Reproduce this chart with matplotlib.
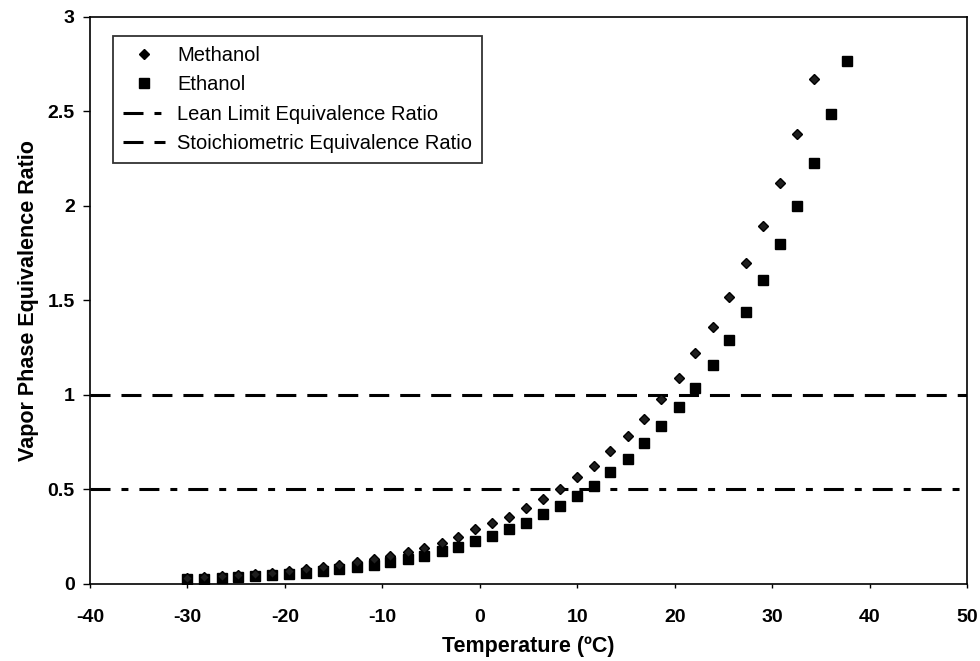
import matplotlib
matplotlib.use("Agg")
import matplotlib.pyplot as plt
from matplotlib.lines import Line2D

plt.rcParams['font.family'] = ['Liberation Sans', 'DejaVu Sans']
plt.rcParams['lines.scale_dashes'] = False

# Temperatures (deg C) of the data points
temp_ethanol = [-30.0, -28.3, -26.5, -24.8, -23.1, -21.3, -19.6, -17.8, -16.1, -14.4,
                -12.6, -10.9, -9.2, -7.4, -5.7, -3.9, -2.2, -0.5, 1.3, 3.0,
                4.7, 6.5, 8.2, 10.0, 11.7, 13.4, 15.2, 16.9, 18.6, 20.4,
                22.1, 23.9, 25.6, 27.3, 29.1, 30.8, 32.5, 34.3, 36.0, 37.7]
temp_methanol = temp_ethanol[:38]

methanol = [0.030, 0.035, 0.040, 0.046, 0.052, 0.060, 0.068, 0.078, 0.089, 0.102,
            0.116, 0.132, 0.150, 0.170, 0.192, 0.218, 0.250, 0.289, 0.321, 0.356,
            0.404, 0.450, 0.501, 0.564, 0.626, 0.704, 0.785, 0.873, 0.977, 1.092,
            1.221, 1.361, 1.520, 1.700, 1.894, 2.123, 2.379, 2.672]
ethanol = [0.025, 0.028, 0.032, 0.036, 0.041, 0.046, 0.052, 0.060, 0.068, 0.078,
           0.089, 0.101, 0.115, 0.131, 0.150, 0.172, 0.197, 0.228, 0.254, 0.291,
           0.324, 0.369, 0.414, 0.467, 0.520, 0.591, 0.660, 0.744, 0.836, 0.936,
           1.035, 1.159, 1.289, 1.441, 1.608, 1.797, 2.000, 2.226, 2.487, 2.769]

lean_limit = 0.5
stoich = 1.0

x_ticks = [-40, -30, -20, -10, 0, 10, 20, 30, 40, 50]
y_ticks = [0, 0.5, 1, 1.5, 2, 2.5, 3]
y_tick_labels = ['0', '0.5', '1', '1.5', '2', '2.5', '3']

fig = plt.figure(figsize=(9.8, 6.61), dpi=100)
ax = fig.add_axes([0.0918, 0.1165, 0.8950, 0.8578])

dash_lean = (0, (14.4, 7.9, 5.0, 7.9))
dash_stoich = (0, (14.4, 7.9))

ax.axhline(lean_limit, color='black', lw=2.2, linestyle=dash_lean, zorder=1)
ax.axhline(stoich, color='black', lw=2.2, linestyle=dash_stoich, zorder=1)

ax.plot(temp_ethanol, ethanol, linestyle='none', marker='s', ms=7.5,
        color='black', zorder=3)
ax.plot(temp_methanol, methanol, linestyle='none', marker='D', ms=5.5,
        color='#1e1e1e', mec='black', zorder=4)

ax.set_xlim(-40, 50)
ax.set_ylim(0, 3)
ax.set_xticks(x_ticks)
ax.set_xticklabels([str(v) for v in x_ticks])
ax.set_yticks(y_ticks)
ax.set_yticklabels(y_tick_labels)

for lab in ax.get_xticklabels() + ax.get_yticklabels():
    lab.set_fontsize(14)
    lab.set_fontweight('bold')

ax.tick_params(axis='x', direction='out', length=3, width=1, pad=15)
ax.tick_params(axis='y', direction='out', length=5, width=1, pad=6)
for sp in ax.spines.values():
    sp.set_color('black')
    sp.set_linewidth(1.2)

ax.set_xlabel('Temperature (ºC)', fontsize=15.5, fontweight='bold', labelpad=7)
ax.set_ylabel('Vapor Phase Equivalence Ratio', fontsize=15.5, fontweight='bold', labelpad=6)

handles = [
    Line2D([], [], linestyle='none', marker='D', ms=5.5, color='black'),
    Line2D([], [], linestyle='none', marker='s', ms=7.5, color='black'),
    Line2D([], [], color='black', lw=2.2, linestyle=(0, (14.4, 7.9, 5.0, 7.9))),
    Line2D([], [], color='black', lw=2.2, linestyle=(0, (14.4, 7.9))),
]
labels = ['Methanol', 'Ethanol', 'Lean Limit Equivalence Ratio',
          'Stoichiometric Equivalence Ratio']
leg = ax.legend(handles, labels, loc='upper left', bbox_to_anchor=(0.026, 0.967),
                prop={'size': 14.5}, frameon=True, fancybox=False, handlelength=2.1,
                handletextpad=0.6, borderpad=0.5, labelspacing=0.52,
                borderaxespad=0)
leg.get_frame().set_edgecolor('black')
leg.get_frame().set_linewidth(1.3)

fig.savefig('out.png', dpi=100)
